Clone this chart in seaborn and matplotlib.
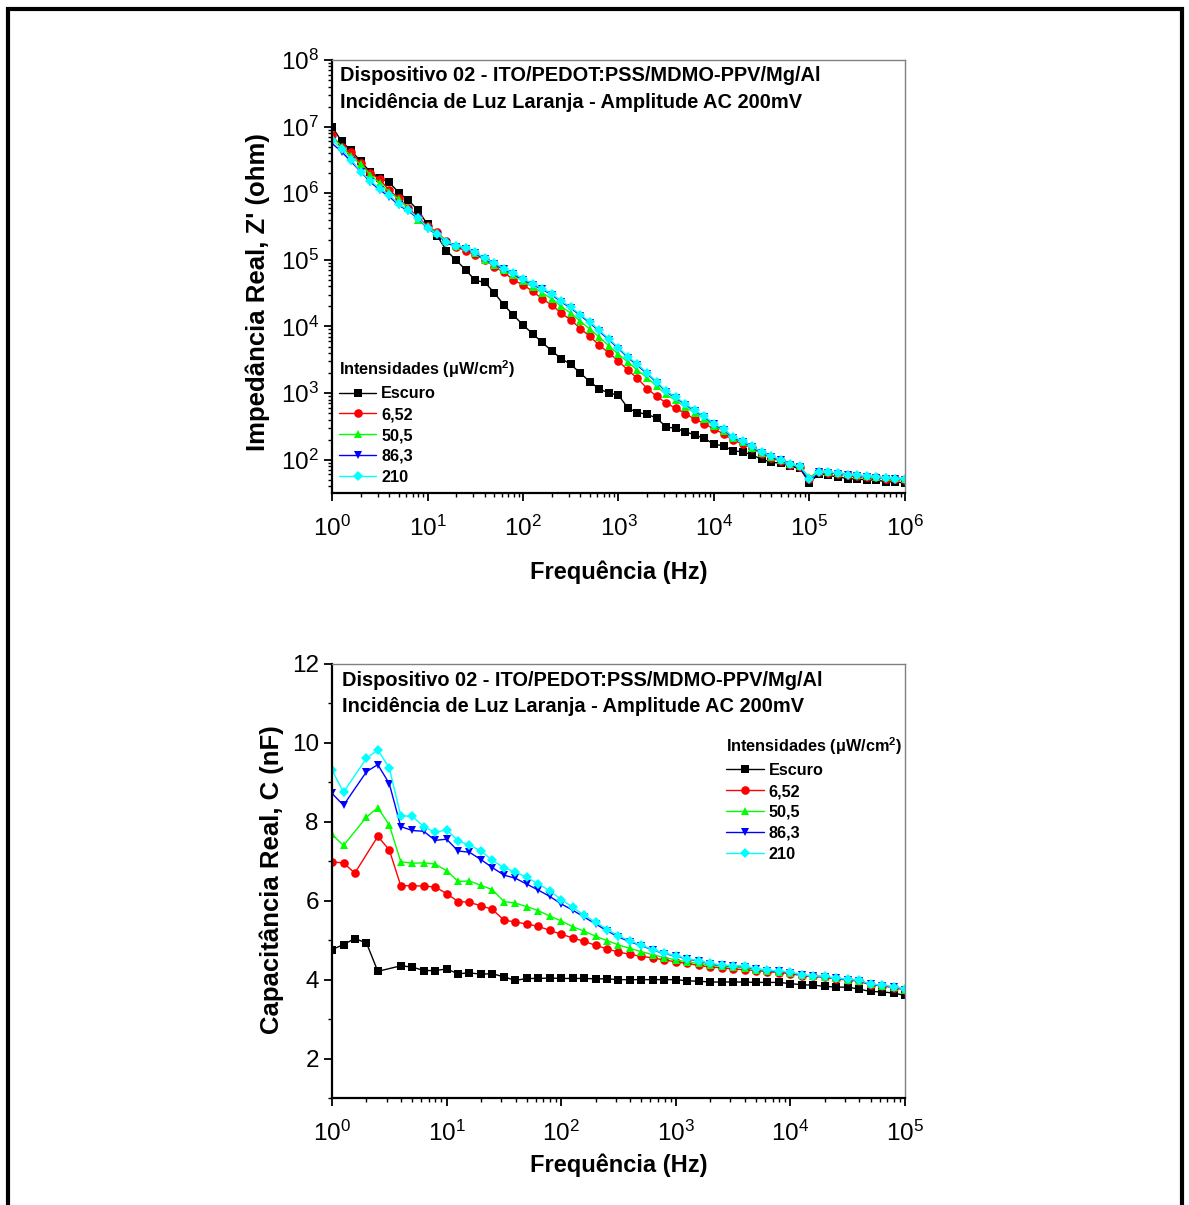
import matplotlib
matplotlib.use("Agg")
import matplotlib.pyplot as plt
import numpy as np
import pandas as pd
import seaborn as sns
from matplotlib.ticker import (LogLocator, MultipleLocator, FixedLocator,
                               FuncFormatter, NullFormatter)
from matplotlib.patches import Rectangle

# ---------------------------------------------------------------- data
SERIES = ["Escuro", "6,52", "50,5", "86,3", "210"]
COLORS = ["#000000", "#ff0000", "#00ff00", "#0000ff", "#00ffff"]
MARKERS = ["s", "o", "^", "v", "D"]

FREQ = [1.0, 1.26, 1.58, 2.0, 2.51, 3.16, 3.98, 5.01, 6.31, 7.94,
        10.0, 12.6, 15.8, 20.0, 25.1, 31.6, 39.8, 50.1, 63.1, 79.4,
        100, 126, 158, 200, 251, 316, 398, 501, 631, 794,
        1.0e3, 1.26e3, 1.58e3, 2.0e3, 2.51e3, 3.16e3, 3.98e3, 5.01e3, 6.31e3, 7.94e3,
        1.0e4, 1.26e4, 1.58e4, 2.0e4, 2.51e4, 3.16e4, 3.98e4, 5.01e4, 6.31e4, 7.94e4,
        1.0e5, 1.26e5, 1.58e5, 2.0e5, 2.51e5, 3.16e5, 3.98e5, 5.01e5, 6.31e5, 7.94e5,
        1.0e6]
FREQ_C = FREQ[:51]

# Real impedance Z' (ohm)
Z_ESCURO = [1.0e7, 6.0e6, 4.4e6, 3.0e6, 2.1e6, 1.7e6, 1.45e6, 1.02e6, 7.8e5, 5.6e5,
            3.4e5, 2.3e5, 1.38e5, 9.8e4, 7.1e4, 4.9e4, 4.6e4, 3.2e4, 2.1e4, 1.48e4,
            1.05e4, 7.8e3, 5.8e3, 4.3e3, 3.3e3, 2.7e3, 2.0e3, 1.48e3, 1.15e3, 1.0e3,
            930, 590, 510, 480, 420, 310, 295, 263, 234, 209,
            170, 162, 135, 132, 117, 102, 91, 89, 79, 74,
            45, 62, 58, 55, 52, 51, 50, 49, 47, 46, 45]
Z_652 = [7.4e6, 5.0e6, 4.1e6, 2.8e6, 2.0e6, 1.62e6, 1.1e6, 8.5e5, 6.0e5, 4.4e5,
         3.2e5, 2.6e5, 1.9e5, 1.58e5, 1.35e5, 1.2e5, 1.0e5, 7.9e4, 6.5e4, 5.0e4,
         4.2e4, 3.4e4, 2.6e4, 2.1e4, 1.58e4, 1.26e4, 9.3e3, 7.1e3, 5.2e3, 4.0e3,
         3.0e3, 2.2e3, 1.66e3, 1.17e3, 890, 710, 590, 490, 407, 347,
         288, 245, 195, 174, 148, 123, 107, 95, 83, 78,
         51, 66, 63, 62, 59, 56, 55, 54, 52, 51, 50]
Z_505 = [7.1e6, 5.0e6, 3.6e6, 2.7e6, 1.9e6, 1.41e6, 1.05e6, 8.1e5, 5.9e5, 4.0e5,
         3.2e5, 2.5e5, 1.9e5, 1.62e5, 1.55e5, 1.26e5, 1.0e5, 8.5e4, 7.1e4, 5.9e4,
         4.8e4, 3.9e4, 3.2e4, 2.6e4, 2.0e4, 1.58e4, 1.2e4, 9.1e3, 6.9e3, 5.1e3,
         3.8e3, 2.9e3, 2.2e3, 1.7e3, 1.26e3, 955, 776, 617, 501, 407,
         324, 269, 209, 182, 151, 126, 110, 98, 85, 79,
         54, 68, 65, 63, 60, 58, 56, 55, 54, 53, 52]
Z_863 = [5.6e6, 4.2e6, 3.0e6, 2.1e6, 1.48e6, 1.12e6, 8.9e5, 6.6e5, 5.4e5, 4.2e5,
         2.95e5, 2.4e5, 1.8e5, 1.57e5, 1.47e5, 1.25e5, 1.02e5, 8.6e4, 7.2e4, 6.1e4,
         5.0e4, 4.25e4, 3.6e4, 3.0e4, 2.33e4, 1.89e4, 1.46e4, 1.13e4, 8.4e3, 6.3e3,
         4.65e3, 3.4e3, 2.6e3, 1.95e3, 1.44e3, 1.04e3, 845, 670, 535, 435,
         338, 281, 214, 186, 154, 126, 109, 98, 83, 77,
         50, 65, 64, 62, 58, 57, 55, 53, 52, 51, 50]
Z_210 = [6.3e6, 4.6e6, 3.2e6, 2.1e6, 1.55e6, 1.17e6, 9.5e5, 6.8e5, 5.6e5, 4.3e5,
         3.0e5, 2.45e5, 1.86e5, 1.62e5, 1.51e5, 1.29e5, 1.05e5, 8.9e4, 7.4e4, 6.3e4,
         5.2e4, 4.4e4, 3.7e4, 3.1e4, 2.4e4, 1.95e4, 1.51e4, 1.17e4, 8.7e3, 6.5e3,
         4.8e3, 3.5e3, 2.7e3, 2.0e3, 1.48e3, 1.07e3, 870, 690, 550, 447,
         347, 288, 219, 191, 158, 129, 112, 100, 85, 79,
         52, 66, 65, 63, 59, 58, 56, 54, 52.5, 52, 51]

# Real capacitance C (nF); None marks a point absent from the sweep
C_ESCURO = [4.76, 4.89, 5.04, 4.93, 4.21, None, 4.35, 4.32, 4.23, 4.23,
            4.27, 4.15, 4.17, 4.14, 4.15, 4.07, 3.98, 4.03, 4.03, 4.04,
            4.03, 4.03, 4.03, 4.02, 4.02, 4.00, 4.00, 4.00, 4.00, 4.00,
            4.00, 3.97, 3.96, 3.94, 3.94, 3.94, 3.94, 3.93, 3.93, 3.93,
            3.90, 3.87, 3.86, 3.83, 3.81, 3.81, 3.76, 3.70, 3.69, 3.66, 3.60]
C_652 = [6.98, 6.96, 6.70, None, 7.63, 7.29, 6.38, 6.38, 6.37, 6.35,
         6.18, 5.98, 5.96, 5.87, 5.78, 5.51, 5.46, 5.41, 5.35, 5.25,
         5.15, 5.06, 4.97, 4.87, 4.78, 4.70, 4.64, 4.59, 4.55, 4.50,
         4.45, 4.41, 4.36, 4.32, 4.30, 4.27, 4.25, 4.23, 4.20, 4.18,
         4.15, 4.10, 4.08, 4.06, 4.02, 3.99, 3.96, 3.87, 3.84, 3.80, 3.74]
C_505 = [7.68, 7.40, None, 8.12, 8.36, 7.92, 6.99, 6.95, 6.96, 6.93,
         6.76, 6.49, 6.50, 6.39, 6.28, 5.98, 5.94, 5.85, 5.75, 5.61,
         5.49, 5.34, 5.23, 5.10, 4.99, 4.88, 4.79, 4.71, 4.63, 4.56,
         4.50, 4.45, 4.41, 4.36, 4.34, 4.31, 4.30, 4.25, 4.22, 4.20,
         4.17, 4.11, 4.09, 4.07, 4.03, 4.00, 3.97, 3.88, 3.85, 3.81, 3.75]
C_863 = [8.72, 8.42, None, 9.27, 9.45, 8.97, 7.88, 7.78, 7.76, 7.53,
         7.56, 7.26, 7.23, 7.04, 6.84, 6.65, 6.57, 6.42, 6.27, 6.11,
         5.92, 5.76, 5.59, 5.41, 5.24, 5.08, 4.96, 4.86, 4.75, 4.66,
         4.60, 4.52, 4.47, 4.40, 4.36, 4.34, 4.33, 4.27, 4.23, 4.21,
         4.18, 4.11, 4.09, 4.07, 4.03, 4.00, 3.97, 3.88, 3.85, 3.81, 3.75]
C_210 = [9.31, 8.75, None, 9.61, 9.82, 9.37, 8.15, 8.14, 7.88, 7.73,
         7.80, 7.52, 7.41, 7.26, 7.02, 6.84, 6.73, 6.59, 6.43, 6.25,
         6.03, 5.84, 5.63, 5.46, 5.27, 5.11, 4.98, 4.87, 4.76, 4.67,
         4.61, 4.53, 4.48, 4.41, 4.37, 4.35, 4.34, 4.28, 4.24, 4.22,
         4.19, 4.12, 4.10, 4.08, 4.04, 4.01, 3.98, 3.89, 3.86, 3.82, 3.76]

Z_ALL = [Z_ESCURO, Z_652, Z_505, Z_863, Z_210]
C_ALL = [C_ESCURO, C_652, C_505, C_863, C_210]

Z_TICKS = [1e2, 1e3, 1e4, 1e5, 1e6, 1e7, 1e8]
C_TICKS = [2, 4, 6, 8, 10, 12]

TITLE_1 = "Dispositivo 02 - ITO/PEDOT:PSS/MDMO-PPV/Mg/Al"
TITLE_2 = "Incidência de Luz Laranja - Amplitude AC 200mV"
LEGEND_TITLE = "Intensidades (\u03bcW/cm$^{2}$)"

# ---------------------------------------------------------------- style
sns.set_theme(style="white")
plt.rcParams["font.family"] = ["Liberation Sans", "DejaVu Sans"]
plt.rcParams["mathtext.fontset"] = "custom"
plt.rcParams["mathtext.rm"] = "Liberation Sans"
plt.rcParams["mathtext.it"] = "Liberation Sans"
plt.rcParams["mathtext.bf"] = "Liberation Sans:bold"
plt.rcParams["mathtext.default"] = "regular"
plt.rcParams["text.color"] = "black"
plt.rcParams["axes.labelcolor"] = "black"
plt.rcParams["xtick.color"] = "black"
plt.rcParams["ytick.color"] = "black"
plt.rcParams["legend.labelcolor"] = "black"

W, H = 1189, 1205
fig = plt.figure(figsize=(W / 100, H / 100), dpi=100)
fig.patch.set_facecolor("white")


def frac_box(left, top, right, bottom):
    return [left / W, 1 - bottom / H, (right - left) / W, (bottom - top) / H]


ax1 = fig.add_axes(frac_box(332, 60, 905, 493))
ax2 = fig.add_axes(frac_box(332, 664, 905, 1098))


def long_frame(freq, columns):
    parts = []
    for name, vals in zip(SERIES, columns):
        parts.append(pd.DataFrame({"freq": freq, "valor": vals, "serie": name}))
    df = pd.concat(parts, ignore_index=True)
    df["valor"] = pd.to_numeric(df["valor"])
    return df.dropna()


def draw_series(ax, df):
    for name, col, mk in zip(SERIES, COLORS, MARKERS):
        sub = df[df["serie"] == name]
        ms = 5.4 if mk == "D" else 6.2
        sns.lineplot(data=sub, x="freq", y="valor", ax=ax, color=col, marker=mk,
                     markersize=ms, markeredgewidth=0, linewidth=1.0,
                     estimator=None, sort=True, label=name)


def style_axes(ax):
    for side in ("left", "bottom"):
        ax.spines[side].set_color("black")
        ax.spines[side].set_linewidth(1.6)
    for side in ("top", "right"):
        ax.spines[side].set_color("#808080")
        ax.spines[side].set_linewidth(1.0)
    ax.tick_params(which="major", direction="out", length=5.5, width=1.3,
                   colors="black", labelsize=17.5, pad=4,
                   bottom=True, left=True, top=False, right=False)
    ax.tick_params(axis="x", which="major", pad=11)
    ax.tick_params(which="minor", direction="out", length=2.8, width=1.0,
                   colors="black", bottom=True, left=True, top=False, right=False)
    ax.grid(False)
    ax.set_facecolor("white")


def pow10(v, pos):
    e = int(round(np.log10(v)))
    return "$10^{%d}$" % e


def add_legend(ax, anchor):
    handles, labels = ax.get_legend_handles_labels()
    leg = ax.legend(handles, labels, title=LEGEND_TITLE, loc="upper left",
                    bbox_to_anchor=anchor, frameon=False,
                    prop={"weight": "bold", "size": 11.7},
                    title_fontproperties={"weight": "bold", "size": 11.7},
                    handlelength=2.3, handletextpad=0.3, labelspacing=0.36,
                    borderpad=0, borderaxespad=0, alignment="left")
    return leg


# ---------------------------------------------------------------- top: Z'
dfz = long_frame(FREQ, Z_ALL)
ax1.set_xscale("log")
ax1.set_yscale("log")
draw_series(ax1, dfz)
ax1.set_xlim(1, 1e6)
ax1.set_ylim(31.6, 1e8)
style_axes(ax1)
ax1.xaxis.set_major_locator(LogLocator(base=10, numticks=20))
ax1.xaxis.set_minor_locator(LogLocator(base=10, subs=np.arange(2, 10), numticks=100))
ax1.yaxis.set_major_locator(FixedLocator(Z_TICKS))
ax1.yaxis.set_minor_locator(LogLocator(base=10, subs=np.arange(2, 10), numticks=100))
ax1.xaxis.set_major_formatter(FuncFormatter(pow10))
ax1.yaxis.set_major_formatter(FuncFormatter(pow10))
ax1.xaxis.set_minor_formatter(NullFormatter())
ax1.yaxis.set_minor_formatter(NullFormatter())
ax1.set_xlabel("Frequência (Hz)", fontsize=17, fontweight="bold", labelpad=14)
ax1.set_ylabel("Impedância Real, Z' (ohm)", fontsize=18.5, fontweight="bold")
ax1.yaxis.set_label_coords((270 - 332) / 573, (493 - 292) / 433)
ax1.text(0.014, 0.965, TITLE_1, transform=ax1.transAxes, fontsize=14.4,
         fontweight="bold", va="center", ha="left")
ax1.text(0.014, 0.903, TITLE_2, transform=ax1.transAxes, fontsize=14.4,
         fontweight="bold", va="center", ha="left")
add_legend(ax1, (0.012, 0.31))

# ---------------------------------------------------------------- bottom: C
dfc = long_frame(FREQ_C, C_ALL)
ax2.set_xscale("log")
draw_series(ax2, dfc)
ax2.set_xlim(1, 1e5)
ax2.set_ylim(1, 12)
style_axes(ax2)
ax2.xaxis.set_major_locator(LogLocator(base=10, numticks=20))
ax2.xaxis.set_minor_locator(LogLocator(base=10, subs=np.arange(2, 10), numticks=100))
ax2.xaxis.set_major_formatter(FuncFormatter(pow10))
ax2.xaxis.set_minor_formatter(NullFormatter())
ax2.yaxis.set_major_locator(FixedLocator(C_TICKS))
ax2.yaxis.set_minor_locator(MultipleLocator(1))
ax2.set_xlabel("Frequência (Hz)", fontsize=17, fontweight="bold", labelpad=5)
ax2.set_ylabel("Capacitância Real, C (nF)", fontsize=18.5, fontweight="bold")
ax2.yaxis.set_label_coords((284 - 332) / 573, (1098 - 880) / 434)
ax2.text(0.017, 0.963, TITLE_1, transform=ax2.transAxes, fontsize=14.4,
         fontweight="bold", va="center", ha="left")
ax2.text(0.017, 0.903, TITLE_2, transform=ax2.transAxes, fontsize=14.4,
         fontweight="bold", va="center", ha="left")
add_legend(ax2, (0.688, 0.835))

# ---------------------------------------------------------------- page frame
fig.add_artist(Rectangle((8 / W, -0.05), (1182 - 8) / W, 1.05 - 9 / H,
                         transform=fig.transFigure, fill=False,
                         edgecolor="black", linewidth=3.0, zorder=10))

fig.savefig("out.png", dpi=100, facecolor="white")
